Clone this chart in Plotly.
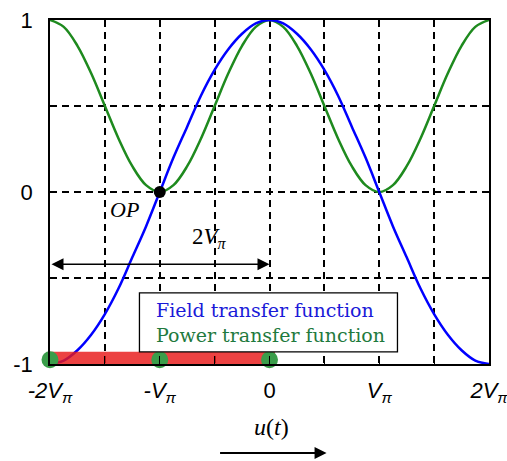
import plotly.graph_objects as go

# x in units of V_pi
u = [-2.0, -1.875, -1.75, -1.625, -1.5, -1.375, -1.25, -1.125, -1.0, -0.875, -0.75, -0.625, -0.5, -0.375, -0.25, -0.125,
     0.0, 0.125, 0.25, 0.375, 0.5, 0.625, 0.75, 0.875, 1.0, 1.125, 1.25, 1.375, 1.5, 1.625, 1.75, 1.875, 2.0]
field = [-1.0, -0.98, -0.92, -0.83, -0.71, -0.56, -0.38, -0.2, 0.0, 0.2, 0.38, 0.56, 0.71, 0.83, 0.92, 0.98,
         1.0, 0.98, 0.92, 0.83, 0.71, 0.56, 0.38, 0.2, 0.0, -0.2, -0.38, -0.56, -0.71, -0.83, -0.92, -0.98, -1.0]
power = [1.0, 0.96, 0.85, 0.69, 0.5, 0.31, 0.15, 0.04, 0.0, 0.04, 0.15, 0.31, 0.5, 0.69, 0.85, 0.96,
         1.0, 0.96, 0.85, 0.69, 0.5, 0.31, 0.15, 0.04, 0.0, 0.04, 0.15, 0.31, 0.5, 0.69, 0.85, 0.96, 1.0]

swing_x = [-2.0, -1.0, 0.0]
swing_y = [-0.975, -0.975, -0.975]
op_x = [-1.0]
op_y = [0.0]

x_tickvals = [-2, -1.5, -1, -0.5, 0, 0.5, 1, 1.5, 2]
x_ticktext = ["<i>-2V</i><sub><i>π</i></sub>", " ", "<i>-V</i><sub><i>π</i></sub>", " ", "0", " ",
              "<i>V</i><sub><i>π</i></sub>", " ", "<i>2V</i><sub><i>π</i></sub>"]
y_tickvals = [-1, -0.5, 0, 0.5, 1]
y_ticktext = ["-1", " ", "0", " ", "1"]
legend_labels = ["Field transfer function", "Power transfer function"]

SERIF = "Liberation Serif, DejaVu Serif, serif"
LEGEND_SERIF = "DejaVu Serif, Liberation Serif, serif"
SANS = "Liberation Sans, Arial, sans-serif"
BLUE = "#0000ff"
GREEN = "#1e8a1e"

fig = go.Figure()
fig.add_trace(go.Scatter(x=u, y=power, mode="lines", line=dict(color=GREEN, width=2.5, shape="spline"),
                         showlegend=False, cliponaxis=False))
fig.add_trace(go.Scatter(x=u, y=field, mode="lines", line=dict(color=BLUE, width=2.5, shape="spline"),
                         showlegend=False, cliponaxis=False))
fig.add_trace(go.Scatter(x=[swing_x[0], swing_x[-1] + 0.05], y=[swing_y[0], swing_y[-1]], mode="lines",
                         line=dict(color="rgba(232,25,25,0.82)", width=16), showlegend=False, cliponaxis=False))
fig.add_trace(go.Scatter(x=swing_x, y=swing_y, mode="markers",
                         marker=dict(color="#3a9d4a", size=17), showlegend=False, cliponaxis=False))
fig.add_trace(go.Scatter(x=op_x, y=op_y, mode="markers",
                         marker=dict(color="black", size=12), showlegend=False, cliponaxis=False))

fig.update_xaxes(range=[-2, 2], tickvals=x_tickvals, ticktext=x_ticktext, ticks="inside", ticklen=8,
                 tickcolor="black", tickwidth=1.2, automargin=False, ticklabelstandoff=6,
                 ticklabeloverflow="allow",
                 showgrid=True, gridcolor="black", griddash="7px,5px", gridwidth=1.5,
                 showline=True, linecolor="black", linewidth=1.5, mirror=True, zeroline=False,
                 tickfont=dict(family=SANS, size=22, color="black"))
fig.update_yaxes(range=[-1, 1], tickvals=y_tickvals, ticktext=y_ticktext, ticks="",
                 automargin=False, ticklabelstandoff=11, ticklabeloverflow="allow",
                 showgrid=True, gridcolor="black", griddash="7px,5px", gridwidth=1.5,
                 showline=True, linecolor="black", linewidth=1.5, mirror=True, zeroline=False,
                 tickfont=dict(family=SANS, size=22, color="black"))

# legend box
fig.add_shape(type="rect", xref="x", yref="y", x0=-1.185, x1=1.166, y0=-0.93, y1=-0.587,
              line=dict(color="black", width=1.3), fillcolor="white", layer="above")

annotations = [
    dict(x=-1.05, y=-0.686, xref="x", yref="y", showarrow=False, xanchor="left", yanchor="middle",
         text=legend_labels[0], font=dict(family=LEGEND_SERIF, size=19, color="#1a1ad8")),
    dict(x=-1.05, y=-0.831, xref="x", yref="y", showarrow=False, xanchor="left", yanchor="middle",
         text=legend_labels[1], font=dict(family=LEGEND_SERIF, size=19, color="#1f7a3e")),
    dict(x=-1.32, y=-0.1, xref="x", yref="y", showarrow=False, text="<i>OP</i>",
         font=dict(family=SERIF, size=22, color="black")),
    dict(x=-0.55, y=-0.27, xref="x", yref="y", showarrow=False, text="2<i>V</i><sub><i>π</i></sub>",
         font=dict(family=SERIF, size=23, color="black")),
    dict(x=0, y=-0.42, ax=-2, ay=-0.42, xref="x", yref="y", axref="x", ayref="y", text="",
         showarrow=True, arrowhead=2, arrowside="end+start", arrowsize=1.5, arrowwidth=1.6, arrowcolor="black"),
    dict(x=0.02, y=-0.183, xref="x", yref="paper", showarrow=False, text="<i>u</i>(<i>t</i>)",
         yanchor="middle", font=dict(family=SERIF, size=24, color="black")),
    dict(x=0.52, y=-0.259, xref="x", yref="paper", ax=-108, ay=0, text="", showarrow=True,
         arrowhead=2, arrowsize=1.2, arrowwidth=2, arrowcolor="black"),
]
fig.update_layout(width=507, height=461, margin=dict(l=50, r=18, t=20, b=97),
                  plot_bgcolor="white", paper_bgcolor="white", annotations=annotations, showlegend=False)

fig.write_html("out.html")
